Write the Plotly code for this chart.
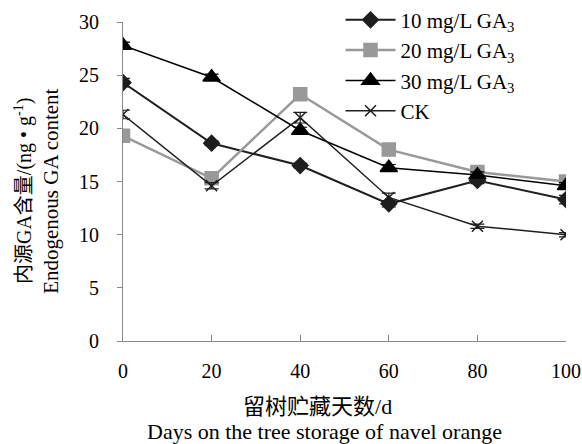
import plotly.graph_objects as go

days = [0, 20, 40, 60, 80, 100]
ga10 = [24.3, 18.6, 16.5, 12.9, 15.1, 13.3]
ga20 = [19.3, 15.3, 23.2, 18.0, 15.9, 15.0]
ga30 = [27.8, 24.8, 19.8, 16.3, 15.6, 14.6]
ck = [21.3, 14.6, 21.0, 13.5, 10.8, 10.0]
err10 = [0.4, 0.2, 0.2, 0.3, 0.3, 0.4]
err20 = [0.3, 0.3, 0.3, 0.3, 0.3, 0.3]
err30 = [0.3, 0.3, 0.3, 0.3, 0.3, 0.3]
errck = [0.4, 0.3, 0.5, 0.4, 0.2, 0.2]
names = ["10 mg/L GA<sub>3</sub>", "20 mg/L GA<sub>3</sub>", "30 mg/L GA<sub>3</sub>", "CK"]

serif = "Liberation Serif, Times New Roman, serif"
cjk = "Noto Sans CJK SC"

fig = go.Figure()
specs = [
    (ga10, err10, names[0], "#1e1e1e", 2, "diamond", 12),
    (ga20, err20, names[1], "#999999", 2.5, "square", 13),
    (ga30, err30, names[2], "#000000", 1.5, "triangle-up", 15),
    (ck, errck, names[3], "#1e1e1e", 1.5, "x-thin", 11),
]
for vals, err, nm, col, w, sym, sz in specs:
    fig.add_trace(go.Scatter(
        x=days, y=vals, name=nm, mode="lines+markers",
        line=dict(color=col, width=w),
        marker=dict(symbol=sym, size=sz, color=col,
                    line=dict(color=col, width=1.5)),
        error_y=dict(type="data", array=err, color=col, thickness=1.2, width=7),
    ))

fig.update_layout(
    width=582, height=444,
    margin=dict(l=123, r=16, t=22, b=103, autoexpand=False),
    paper_bgcolor="white", plot_bgcolor="white",
    font=dict(family=serif, size=20, color="black"),
    showlegend=True,
    legend=dict(x=0.491, y=1.07, xanchor="left", yanchor="top",
                bgcolor="rgba(0,0,0,0)", font=dict(size=21, family=serif),
                tracegroupgap=0, itemwidth=50),
    xaxis=dict(range=[0, 100], tickvals=days, showgrid=False, zeroline=False,
               showline=True, linecolor="#888888", linewidth=1,
               ticks="inside", ticklen=6, tickcolor="#888888",
               tickfont=dict(size=20, family=serif), ticklabelstandoff=12),
    yaxis=dict(range=[0, 30], tickvals=[0, 5, 10, 15, 20, 25, 30], showgrid=False,
               zeroline=False, showline=True, linecolor="#888888", linewidth=1,
               ticks="outside", ticklen=5, tickcolor="#888888",
               tickfont=dict(size=20, family=serif), ticklabelstandoff=14),
)

fig.add_annotation(xref="paper", yref="paper", x=0.44, y=-0.14, yanchor="top",
                   text="<span style='font-family:Noto Sans CJK SC'>留树贮藏天数</span>/d",
                   showarrow=False, font=dict(size=22, family=serif))
fig.add_annotation(xref="paper", yref="paper", x=0.455, y=-0.238, yanchor="top",
                   text="Days on the tree storage of navel orange",
                   showarrow=False, font=dict(size=22, family=serif))
fig.add_annotation(xref="paper", yref="paper", x=-0.228, y=0.47, xanchor="center",
                   textangle=-90,
                   text="<span style='font-family:Noto Sans CJK SC'>内源</span>GA<span style='font-family:Noto Sans CJK SC'>含量</span>/(ng • g<sup>-1</sup>)",
                   showarrow=False, font=dict(size=20, family=serif))
fig.add_annotation(xref="paper", yref="paper", x=-0.163, y=0.47, xanchor="center",
                   textangle=-90, text="Endogenous GA content",
                   showarrow=False, font=dict(size=21, family=serif))

fig.write_html("out.html", config={"displayModeBar": False},
               post_script="document.body.style.margin='0';document.body.style.padding='0';")
